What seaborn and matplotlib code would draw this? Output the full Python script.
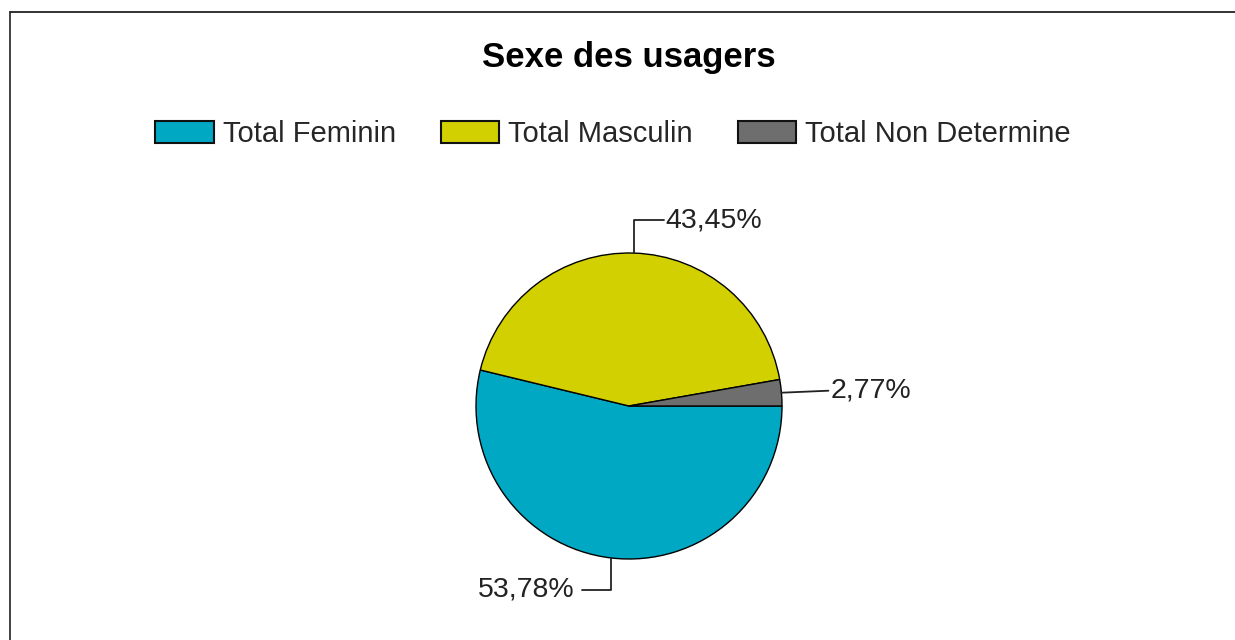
import numpy as np
import seaborn as sns
import matplotlib.pyplot as plt
from matplotlib.lines import Line2D

categories = ["Total Feminin", "Total Masculin", "Total Non Determine"]
percents = [53.78, 43.45, 2.77]
colors = ["#00A8C4", "#D2D000", "#6E6E6E"]

sns.set_theme(style="white")
plt.rcParams['font.family'] = ['Liberation Sans', 'DejaVu Sans']

fig = plt.figure(figsize=(12.35, 6.4), dpi=100)
ax = fig.add_axes([0, 0, 1, 1])

# pixel-like coordinates, y upward
cx, cy, r = 629, 640 - 406, 153
wedges, _ = ax.pie(percents, colors=colors, startangle=0, counterclock=False,
                   center=(cx, cy), radius=r,
                   wedgeprops=dict(edgecolor="black", linewidth=1.0))
ax.set_xlim(0, 1235)
ax.set_ylim(0, 640)
ax.set_aspect("equal")
ax.axis("off")

# labels with elbow leader lines
for w, p in zip(wedges, percents):
    ang = np.deg2rad((w.theta1 + w.theta2) / 2)
    x0, y0 = cx + r * np.cos(ang), cy + r * np.sin(ang)
    txt = f"{p:.2f}%".replace(".", ",")
    if abs(np.sin(ang)) > 0.7:
        dy = 33 if np.sin(ang) > 0 else -32
        dx = 30 if np.cos(ang) > 0 else -29
        ax.plot([x0, x0, x0 + dx], [y0, y0 + dy, y0 + dy], color="#222222", lw=1.3)
        ha = "left" if dx > 0 else "right"
        ax.text(x0 + dx + (2 if dx > 0 else -7), y0 + dy, txt, ha=ha, va="center",
                fontsize=20.5, color="#222222")
    else:
        ax.plot([x0, x0 + 47], [y0, y0 + 2], color="#222222", lw=1.3)
        ax.text(x0 + 49, y0 + 2, txt, ha="left", va="center", fontsize=20.5, color="#222222")

fig.text(629 / 1235, 1 - 57 / 640, "Sexe des usagers", ha="center", va="center",
         fontsize=25, fontweight="bold", color="black")

leg = fig.legend(wedges, categories, loc="center", bbox_to_anchor=(613 / 1235, 1 - 134 / 640),
                 ncol=3, frameon=False, fontsize=21, handlelength=2.0, handleheight=0.75,
                 handletextpad=0.3, columnspacing=1.55)
for h in leg.legend_handles:
    h.set_edgecolor("#111111")
    h.set_linewidth(1.5)

# outer frame line
fig.add_artist(Line2D([10 / 1235, 10 / 1235], [0, 1 - 12 / 640], transform=fig.transFigure,
                      color="#333333", lw=1.3))
fig.add_artist(Line2D([10 / 1235, 1], [1 - 12 / 640, 1 - 12 / 640], transform=fig.transFigure,
                      color="#222222", lw=1.3))

fig.savefig("out.png", dpi=100, facecolor="white")
